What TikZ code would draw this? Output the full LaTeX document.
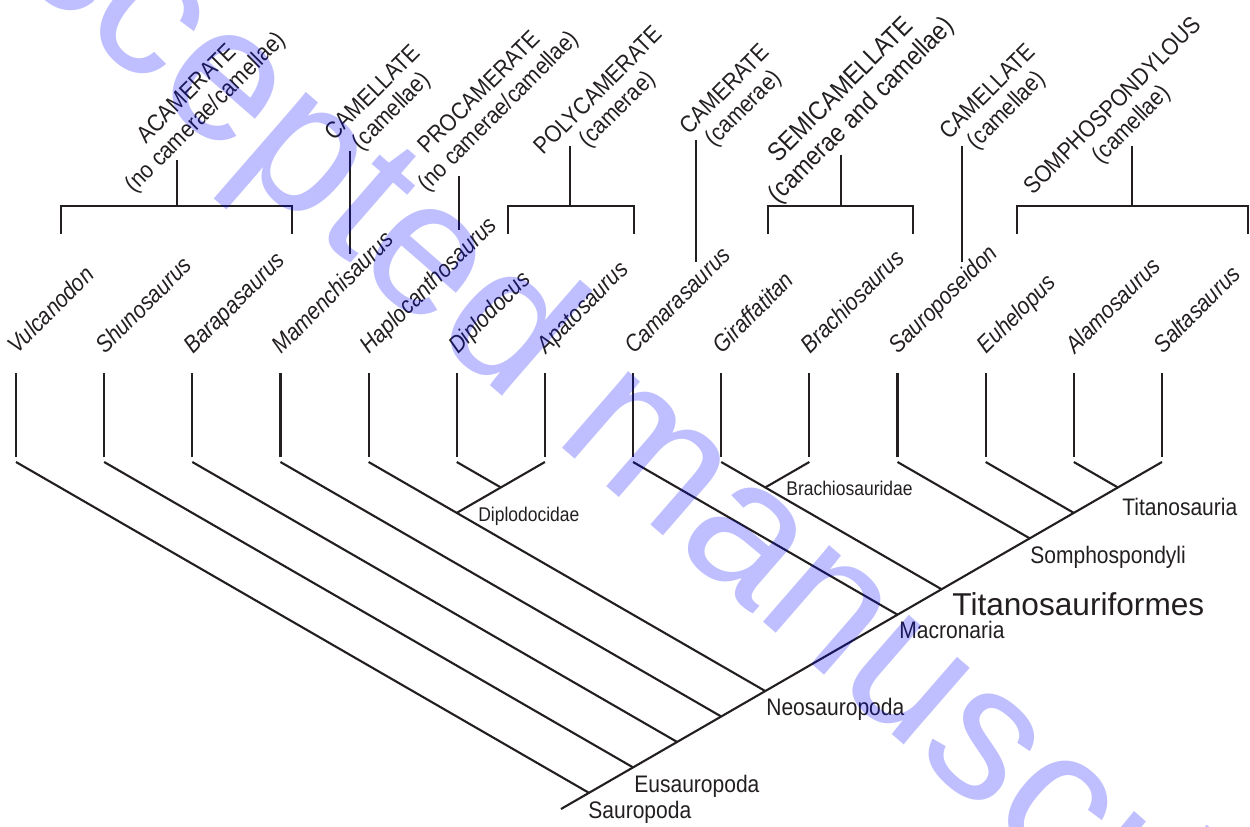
\documentclass[tikz,border=0pt]{standalone}
\usepackage{fontspec}
\setmainfont{Liberation Sans}
\newfontfamily\condfont[FakeStretch=0.88]{Liberation Sans}
\usepackage{tikz}
\usetikzlibrary{calc}
\definecolor{branchc}{HTML}{231F20}
\definecolor{wmarkc}{HTML}{0000FF}

% junction of the 30 degree branches from tips #2 and #3
\newcommand{\cladept}[3]{%
  \coordinate (#1) at ({16+\dx*((#2+#3)/2-1)},{462+25.45*(#3-#2)});}
% bracket over several tips: name, left x, right x, stem x, stem top y
\newcommand{\grpbracket}[5]{%
  \coordinate (#1L) at (#2,234);
  \coordinate (#1Lt) at (#2,206);
  \coordinate (#1Rt) at (#3,206);
  \coordinate (#1R) at (#3,234);
  \coordinate (#1M) at (#4,206);
  \coordinate (#1S) at (#4,#5);
  \draw[branch] (#1L) -- (#1Lt) -- (#1Rt) -- (#1R);
  \draw[branch] (#1S) -- (#1M);}

\begin{document}
\begin{tikzpicture}[
    x=0.02cm, y=-0.02cm,
    branch/.style={draw=branchc, line width=1.2pt},
    taxon/.style={font=\condfont\fontsize{13.6}{15}\selectfont\itshape,
      rotate=45, anchor=base west, inner sep=0pt, text=branchc},
    grp/.style={font=\condfont\fontsize{13.6}{15}\selectfont,
      rotate=45, align=center, inner sep=0pt, text=branchc},
    clade/.style={font=\condfont\fontsize{13.6}{16}\selectfont,
      anchor=base west, inner sep=0pt, text=branchc},
    family/.style={font=\condfont\fontsize{11.3}{13}\selectfont,
      anchor=base west, inner sep=0pt, text=branchc},
    bigclade/.style={font=\fontsize{18}{21}\selectfont,
      anchor=base west, inner sep=0pt, text=branchc},
    wmark/.style={font=\fontsize{109}{109}\selectfont, text=wmarkc,
      text opacity=0.25, rotate=-41, inner sep=0pt}
  ]
  \useasboundingbox (0,0) rectangle (1250,827);
  \def\dx{88.15}

  % --- tips
  \foreach \nm [count=\i] in {Vulcanodon, Shunosaurus, Barapasaurus,
      Mamenchisaurus, Haplocanthosaurus, Diplodocus, Apatosaurus,
      Camarasaurus, Giraffatitan, Brachiosaurus, Sauroposeidon,
      Euhelopus, Alamosaurus, Saltasaurus} {
    \coordinate (top\i) at ({16+\dx*(\i-1)},373);
    \coordinate (bot\i) at ({16+\dx*(\i-1)},457);
    \coordinate (st\i) at ({16+\dx*(\i-1)},462);
    \node[taxon] (tx\i) at ({17+\dx*(\i-1)},355) {\nm};
    \draw[branch] (top\i) -- (bot\i);
  }

  % --- junctions
  \cladept{titan}{13}{14}
  \cladept{euh}{12}{14}
  \cladept{somph}{11}{14}
  \cladept{brach}{9}{10}
  \cladept{tform}{9}{14}
  \cladept{macro}{8}{14}
  \cladept{dipl}{6}{7}
  \cladept{diplo}{5}{7}
  \cladept{neo}{5}{14}
  \cladept{mam}{4}{14}
  \cladept{bara}{3}{14}
  \cladept{eus}{2}{14}
  \cladept{saur}{1}{14}
  \coordinate (root) at (561,809);

  % --- branches
  \draw[branch] (st14) -- (titan) -- (euh) -- (somph) -- (tform) -- (macro)
    -- (neo) -- (mam) -- (bara) -- (eus) -- (saur) -- (root);
  \draw[branch] (st13) -- (titan);
  \draw[branch] (st12) -- (euh);
  \draw[branch] (st11) -- (somph);
  \draw[branch] (st10) -- (brach);
  \draw[branch] (st9) -- (brach) -- (tform);
  \draw[branch] (st8) -- (macro);
  \draw[branch] (st7) -- (dipl) -- (diplo);
  \draw[branch] (st6) -- (dipl);
  \draw[branch] (st5) -- (diplo) -- (neo);
  \draw[branch] (st4) -- (mam);
  \draw[branch] (st3) -- (bara);
  \draw[branch] (st2) -- (eus);
  \draw[branch] (st1) -- (saur);

  % --- clade names
  \node[clade] (ltitan) at (1122,515) {Titanosauria};
  \node[clade] (lsomph) at (1030,563) {Somphospondyli};
  \node[bigclade] (ltform) at (952,615) {Titanosauriformes};
  \node[clade] (lmacro) at (899,638) {Macronaria};
  \node[clade] (lneo) at (766,715) {Neosauropoda};
  \node[clade] (leus) at (634,792) {Eusauropoda};
  \node[clade] (lsaur) at (588,818) {Sauropoda};
  \node[family] (ldipl) at (478,521) {Diplodocidae};
  \node[family] (lbrach) at (786,495) {Brachiosauridae};

  % --- pneumaticity groups
  \grpbracket{acam}{61}{292}{177}{160}
  \grpbracket{poly}{508}{634}{570}{146}
  \grpbracket{semi}{768}{913}{841}{155}
  \grpbracket{somphb}{1017}{1248}{1132}{146}
  \coordinate (camelAt) at (350,151);
  \coordinate (camelAb) at (350,254);
  \coordinate (procamt) at (459,176);
  \coordinate (procamb) at (459,230);
  \coordinate (camert) at (696,140);
  \coordinate (camerb) at (696,262);
  \coordinate (camelBt) at (962,146);
  \coordinate (camelBb) at (962,262);
  \draw[branch] (camelAt) -- (camelAb);
  \draw[branch] (procamt) -- (procamb);
  \draw[branch] (camert) -- (camerb);
  \draw[branch] (camelBt) -- (camelBb);

  \node[grp] (gacam) at (197,104) {ACAMERATE\\(no camerae/camellae)};
  \node[grp] (gcamelA) at (383,103) {CAMELLATE\\(camellae)};
  \node[grp] (gprocam) at (490,103) {PROCAMERATE\\(no camerae/camellae)};
  \node[grp] (gpoly) at (609,101) {POLYCAMERATE\\(camerae)};
  \node[grp] (gcamer) at (735,100) {CAMERATE\\(camerae)};
  \node[grp, font=\condfont\fontsize{15}{16.5}\selectfont] (gsemi)
    at (852,101) {SEMICAMELLATE\\(camerae and camellae)};
  \node[grp] (gcamelB) at (998,102) {CAMELLATE\\(camellae)};
  \node[grp] (gsomph) at (1123,116) {SOMPHOSPONDYLOUS\\(camellae)};

  % --- watermark
  \node[wmark] (wm) at (617,430) {Accepted manuscript};
\end{tikzpicture}
\end{document}
